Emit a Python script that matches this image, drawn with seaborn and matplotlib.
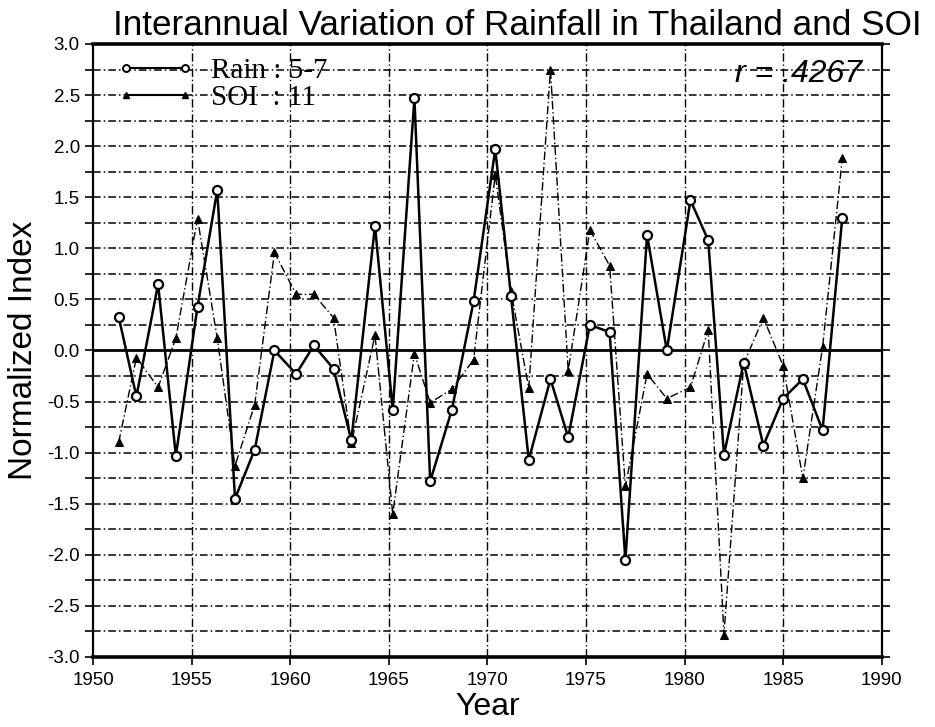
import matplotlib
matplotlib.use("Agg")
import matplotlib.pyplot as plt
import matplotlib.lines as mlines
import seaborn as sns
import pandas as pd
import numpy as np

# positions of the plotted points along the year axis
years = [1951.3, 1952.2, 1953.3, 1954.2, 1955.3, 1956.3, 1957.2, 1958.2, 1959.2,
         1960.3, 1961.2, 1962.2, 1963.1, 1964.3, 1965.2, 1966.3, 1967.1, 1968.2,
         1969.3, 1970.4, 1971.2, 1972.1, 1973.2, 1974.1, 1975.2, 1976.2, 1977.0,
         1978.1, 1979.1, 1980.3, 1981.2, 1982.0, 1983.0, 1984.0, 1985.0, 1986.0,
         1987.0, 1988.0]

rain = [0.33, -0.45, 0.65, -1.03, 0.43, 1.57, -1.45, -0.97, 0.0, -0.23, 0.05,
        -0.18, -0.88, 1.22, -0.58, 2.47, -1.28, -0.58, 0.48, 1.97, 0.53, -1.07,
        -0.28, -0.85, 0.25, 0.18, -2.05, 1.13, 0.0, 1.47, 1.08, -1.02, -0.12,
        -0.93, -0.47, -0.28, -0.78, 1.30]

soi = [-0.90, -0.07, -0.36, 0.12, 1.29, 0.12, -1.13, -0.53, 0.96, 0.55, 0.55,
       0.32, -0.91, 0.15, -1.60, -0.03, -0.51, -0.38, -0.09, 1.72, 0.58, -0.37,
       2.75, -0.20, 1.18, 0.83, -1.33, -0.23, -0.47, -0.36, 0.20, -2.78, -0.13,
       0.32, -0.15, -1.25, 0.03, 1.88]

title = "Interannual Variation of Rainfall in Thailand and SOI"
r_text = "r = .4267"

df = pd.DataFrame({"year": years, "rain": rain, "soi": soi})

sns.set_style("white")
plt.rcParams["font.family"] = ["Liberation Sans", "DejaVu Sans"]
plt.rcParams.update({"text.color": "black", "axes.labelcolor": "black",
                     "xtick.color": "black", "ytick.color": "black"})

fig = plt.figure(figsize=(9.35, 7.27), dpi=100)
ax = fig.add_axes([0.0995, 0.0963, 0.8435, 0.8432])

# grid lines
for yv in np.arange(-2.75, 2.76, 0.25):
    if abs(yv) < 1e-9:
        continue
    ax.axhline(yv, color="black", lw=1.1, ls=(0, (5, 2, 1, 2)), zorder=1)
for xv in range(1955, 1990, 5):
    ax.axvline(xv, color="black", lw=1.0, ls=(0, (6, 2, 1, 2)), zorder=1)
ax.axhline(0, color="black", lw=2.0, zorder=2)

sns.lineplot(data=df, x="year", y="soi", ax=ax, color="black", lw=1.0,
             linestyle=(0, (6, 2, 1, 2)), marker="^", markersize=6,
             markerfacecolor="black", markeredgecolor="black", zorder=3)
sns.lineplot(data=df, x="year", y="rain", ax=ax, color="black", lw=1.8,
             marker="o", markersize=6.5, markerfacecolor="white",
             markeredgecolor="black", markeredgewidth=1.6, zorder=4)

ax.set_xlim(1950, 1990)
ax.set_ylim(-3.0, 3.0)
ax.set_xticks(range(1950, 1991, 5))
ax.set_yticks(np.arange(-3.0, 3.01, 0.5))
ax.set_yticks(np.arange(-3.0, 3.01, 0.25), minor=True)
ax.set_yticklabels([f"{v:.1f}" for v in np.arange(-3.0, 3.01, 0.5)])
ax.tick_params(axis="both", which="both", direction="out", length=6, width=1.2,
               labelsize=13.5, color="black", right=True, left=True, bottom=True)
ax.tick_params(axis="x", pad=5)
for s in ax.spines.values():
    s.set_color("black")
    s.set_linewidth(1.6)
ax.spines["top"].set_linewidth(2.6)
ax.spines["bottom"].set_linewidth(2.6)

ax.set_xlabel("Year", fontsize=23, labelpad=2)
ax.set_ylabel("Normalized Index", fontsize=24, labelpad=6)

fig.text(113 / 935, 1 - 35 / 727, title, fontsize=25.3, ha="left", va="baseline")
ax.text(0.975, 0.951, r_text, transform=ax.transAxes, fontsize=23, style="italic",
        ha="right", va="center")

h_rain = mlines.Line2D([], [], color="black", lw=1.5, marker="o", markersize=5,
                       markerfacecolor="white", markeredgewidth=1.4)
h_soi = mlines.Line2D([], [], color="black", lw=1.5, marker="^", markersize=5)
leg = ax.legend([h_rain, h_soi], ["Rain : 5-7", "SOI  : 11"], loc="upper left",
                bbox_to_anchor=(0.031, 0.977), frameon=False, handlelength=2.6,
                numpoints=2, handletextpad=0.6,
                prop={"family": "Liberation Serif", "size": 21},
                labelspacing=0.0, borderaxespad=0.0, borderpad=0.0)

fig.savefig("out.png", dpi=100)
